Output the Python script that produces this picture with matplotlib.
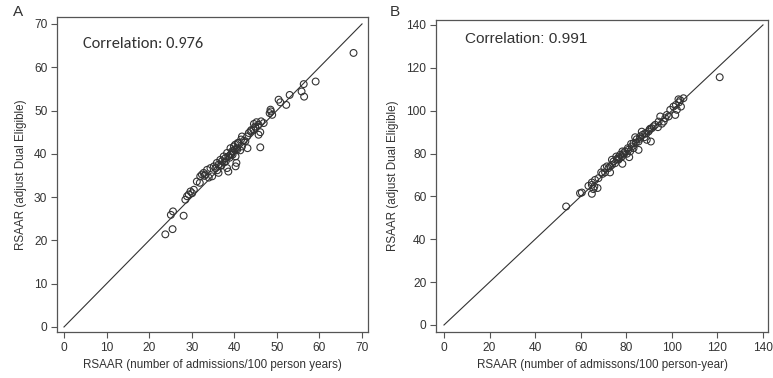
import matplotlib.pyplot as plt

# Panel A: RSAAR vs RSAAR adjusted for dual eligibility
a_x = [68.0, 59.1, 56.3, 55.8, 56.4, 53.0, 52.2, 50.4, 50.8, 48.5, 48.9, 48.3,
       46.1, 43.1, 46.3, 45.7, 46.1, 45.7, 44.9, 44.6, 43.8, 43.4, 43.0, 41.8,
       41.6, 41.0, 42.6, 40.3, 40.5, 40.3, 40.6, 39.9, 39.5, 39.1, 38.3, 38.6,
       36.3, 37.5, 36.7, 35.9, 35.2, 34.4, 33.6, 34.8, 32.8, 32.0, 33.2, 31.2,
       31.9, 30.5, 29.7, 28.9, 28.5, 28.1, 25.6, 25.1, 25.5, 23.8, 41.8, 41.4,
       40.1, 39.1, 38.3, 37.9, 37.1, 36.3, 35.6, 44.5, 46.9, 48.6, 45.2, 39.8,
       39.6, 38.6, 40.2, 40.8, 29.3, 30.1, 32.4, 33.0, 36.0, 37.0, 38.0, 39.3,
       40.7, 42.2, 44.0, 45.0, 34.0, 36.8, 37.6, 38.9]
a_y = [63.3, 56.7, 56.1, 54.4, 53.2, 53.6, 51.3, 52.5, 51.9, 50.2, 49.0, 49.4,
       41.5, 41.3, 47.5, 46.7, 45.0, 44.4, 46.3, 46.9, 45.2, 44.8, 44.0, 44.0,
       43.3, 42.5, 42.9, 39.4, 37.9, 37.1, 41.3, 41.7, 40.6, 39.8, 36.7, 35.9,
       35.6, 39.4, 38.6, 37.9, 37.1, 36.7, 36.3, 34.8, 35.6, 34.8, 35.2, 33.6,
       33.3, 31.7, 31.3, 30.2, 29.4, 25.7, 26.7, 25.9, 22.6, 21.4, 41.7, 40.8,
       40.9, 41.3, 40.2, 39.0, 38.3, 37.5, 36.7, 45.6, 47.1, 49.8, 47.3, 40.6,
       39.8, 39.4, 42.1, 42.5, 30.6, 30.9, 35.2, 34.9, 36.2, 37.4, 38.3, 39.9,
       41.0, 43.0, 45.5, 46.0, 34.5, 37.2, 38.0, 39.1]

# Panel B
b_x = [121.0, 53.6, 59.7, 60.5, 64.9, 63.4, 65.6, 67.4, 64.9, 66.3, 67.8, 69.6,
       70.7, 72.9, 72.2, 73.7, 75.1, 75.9, 76.6, 78.3, 77.3, 78.8, 79.5, 81.3,
       81.7, 82.4, 83.2, 84.2, 85.4, 86.1, 87.1, 88.3, 89.0, 90.8, 89.8, 91.2,
       92.7, 94.2, 94.9, 96.4, 97.1, 97.8, 98.6, 99.3, 100.7, 101.5, 102.2, 101.8,
       102.9, 104.0, 103.7, 105.1, 103.2, 85.4, 83.2, 80.3, 78.1, 74.4, 71.5, 69.0,
       64.9, 66.0, 90.2, 92.0, 86.8, 88.0, 84.6, 82.1, 80.7, 76.6, 75.6, 73.7,
       72.9, 70.4, 78.3, 83.9, 93.9, 95.6, 90.5, 77.0, 79.0, 81.0, 86.0, 88.8]
b_y = [115.6, 55.3, 61.5, 61.8, 61.2, 64.9, 63.4, 63.9, 66.5, 67.7, 68.5, 70.5,
       71.2, 71.2, 73.2, 74.7, 75.5, 77.4, 78.3, 75.2, 79.4, 80.2, 81.0, 78.3,
       81.0, 83.3, 84.8, 85.1, 85.6, 87.9, 88.7, 89.5, 86.4, 85.6, 90.3, 91.8,
       93.4, 94.9, 97.3, 94.9, 96.5, 98.0, 97.3, 100.4, 101.9, 98.0, 100.4, 102.7,
       105.3, 101.9, 104.9, 105.8, 103.9, 81.7, 82.5, 79.9, 78.6, 76.3, 74.0, 71.2,
       65.4, 64.6, 91.1, 92.7, 90.2, 87.6, 86.7, 84.5, 82.5, 77.1, 78.6, 77.1,
       74.0, 73.2, 81.0, 87.6, 92.3, 93.9, 91.6, 77.8, 79.6, 81.8, 86.9, 89.3]

a_ticks = [0, 10, 20, 30, 40, 50, 60, 70]
b_ticks = [0, 20, 40, 60, 80, 100, 120, 140]

plt.rcParams['font.family'] = ['Liberation Sans', 'DejaVu Sans']
txt = '#333333'
edge = '#555555'

fig = plt.figure(figsize=(7.73, 3.78), dpi=100)
ax_a = fig.add_axes([57 / 773, 1 - 332 / 378, 311 / 773, 315 / 378])
ax_b = fig.add_axes([436 / 773, 1 - 332 / 378, 332 / 773, 312 / 378])


def style(ax, ticks, xlim, ylim, xlabel):
    ax.set_xlim(*xlim)
    ax.set_ylim(*ylim)
    ax.set_xticks(ticks)
    ax.set_yticks(ticks)
    ax.tick_params(length=4, width=0.8, color=edge, labelsize=8.6, labelcolor=txt, pad=3)
    for s in ax.spines.values():
        s.set_color(edge)
        s.set_linewidth(0.9)
    ax.set_xlabel(xlabel, fontsize=8.4, color=txt, labelpad=4)
    ax.set_ylabel('RSAAR (adjust Dual Eligible)', fontsize=8.4, color=txt, labelpad=5)


ax_a.plot([0, 70], [0, 70], color='#333333', lw=0.8)
ax_a.scatter(a_x, a_y, s=24, facecolors='none', edgecolors='#333333', linewidths=0.8)
style(ax_a, a_ticks, (-1.64, 71.4), (-1.16, 71.6),
      'RSAAR (number of admissions/100 person years)')
ax_a.text(0.082, 0.915, 'Correlation: 0.976', transform=ax_a.transAxes, fontsize=11.8,
          color=txt, family=['Carlito', 'Lato', 'DejaVu Sans'], va='center')

ax_b.plot([0, 140], [0, 140], color='#333333', lw=0.8)
ax_b.scatter(b_x, b_y, s=24, facecolors='none', edgecolors='#333333', linewidths=0.8)
style(ax_b, b_ticks, (-3.5, 142.2), (-3.27, 142.3),
      'RSAAR (number of admissons/100 person-year)')
ax_b.text(0.087, 0.94, 'Correlation: 0.991', transform=ax_b.transAxes, fontsize=11.1,
          color=txt, va='center')

fig.text(13 / 773, 1 - 12 / 378, 'A', fontsize=11, color=txt, va='center')
fig.text(390 / 773, 1 - 12 / 378, 'B', fontsize=11, color=txt, va='center')

fig.savefig('out.png', dpi=100)
